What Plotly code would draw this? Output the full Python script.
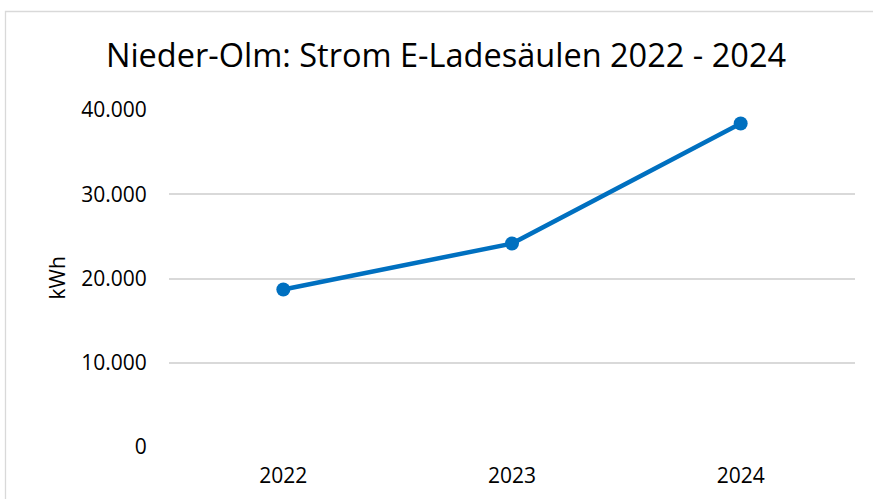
import plotly.graph_objects as go

years = ["2022", "2023", "2024"]
kwh = [18700, 24150, 38400]
y_ticks = [0, 10000, 20000, 30000, 40000]
y_tick_labels = ["0", "10.000", "20.000", "30.000", "40.000"]

FONT = "Open Sans"
W, H = 873, 499
L, R, T, B = 169, 18, 110, 52

fig = go.Figure()
fig.add_trace(go.Scatter(
    x=years, y=kwh, mode="lines+markers",
    line=dict(color="#0070C0", width=4.5),
    marker=dict(color="#0070C0", size=14),
    showlegend=False, hoverinfo="x+y",
))

pw = W - L - R
ph = H - T - B
fig.update_layout(
    width=W, height=H,
    margin=dict(l=L, r=R, t=T, b=B, autoexpand=False),
    paper_bgcolor="white", plot_bgcolor="white",
    font=dict(family=FONT, color="#000000"),
    title=dict(text="Nieder-Olm: Strom E-Ladesäulen 2022 - 2024",
               font=dict(family=FONT, size=32.5, color="#000000"),
               x=446 / W, xanchor="center", y=1 - 56 / H, yanchor="middle"),
    xaxis=dict(type="category", range=[-0.5, 2.5], showgrid=False,
               showline=False, zeroline=False,
               ticks="outside", ticklen=10, tickcolor="rgba(0,0,0,0)",
               tickfont=dict(family=FONT, size=21, color="#000000")),
    yaxis=dict(range=[0, 40000], tickvals=y_ticks, ticktext=y_tick_labels,
               showgrid=True, gridcolor="#D9D9D9", gridwidth=1.5,
               zeroline=False, showline=False,
               ticks="outside", ticklen=17, tickcolor="rgba(0,0,0,0)",
               tickfont=dict(family=FONT, size=21, color="#000000")),
    annotations=[dict(text="kWh", textangle=-90, xref="paper", yref="paper",
                      x=(56 - L) / pw, y=0.5, xanchor="center", yanchor="middle",
                      showarrow=False, font=dict(family=FONT, size=21, color="#000000"))],
    shapes=[dict(type="rect", xref="paper", yref="paper",
                 x0=(5.5 - L) / pw, x1=1.2, y0=-0.4, y1=(T + ph - 11.5) / ph,
                 line=dict(color="#D9D9D9", width=1.3), fillcolor="rgba(0,0,0,0)",
                 layer="below")],
)

fig.write_html("out.html", config={"displayModeBar": False},
               post_script="document.body.style.margin='0';document.body.style.padding='0';")
